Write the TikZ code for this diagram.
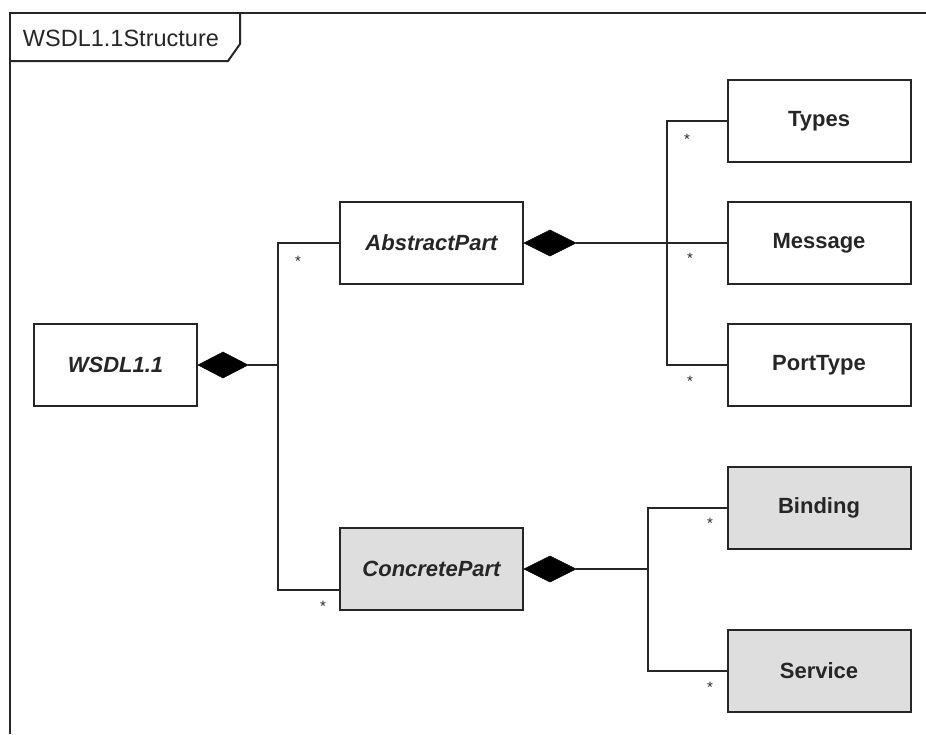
\documentclass[tikz,border=0pt]{standalone}
\usepackage{fontspec}
\setmainfont{Liberation Sans}
\usetikzlibrary{calc}
\definecolor{ln}{HTML}{262626}
\definecolor{gr}{HTML}{DEDEDE}
\begin{document}
\begin{tikzpicture}[x=1pt,y=-1pt,line width=2pt,
  cls/.style={draw=ln,rectangle,inner sep=0pt,minimum width=183pt,minimum height=82pt,font=\fontsize{22}{24}\selectfont\bfseries,text=ln},
  abstr/.style={cls,font=\fontsize{22}{24}\selectfont\bfseries\itshape},
  conc/.style={fill=gr},
  mult/.style={inner sep=0pt,font=\fontsize{15}{15}\selectfont,text=ln},
  dia/.style={fill=black,draw=black,line width=0.5pt},
  conn/.style={draw=ln,line width=2pt}]
\useasboundingbox (0,0) rectangle (926,734);
% frame
\draw[ln] (10,734) -- (10,13) -- (926,13);
\draw[ln] (10,61) -- (228,61) -- (240,44) -- (240,13);
\node[anchor=west,inner sep=0pt,font=\fontsize{23.5}{26}\selectfont,text=ln] (title) at (22,38) {WSDL1.1Structure};
% classes
\node[abstr,minimum width=163pt] (wsdl) at (115.5,365) {WSDL1.1};
\node[abstr] (abs) at (431.5,243) {AbstractPart};
\node[abstr,conc] (con) at (431.5,569) {ConcretePart};
\node[cls] (types) at (819,121) {Types};
\node[cls] (msg) at (819,243) {Message};
\node[cls] (port) at (819,365) {PortType};
\node[cls,conc] (bind) at (819,508) {Binding};
\node[cls,conc] (serv) at (819,671) {Service};
% diamonds
\coordinate (wd) at ($(wsdl.east)+(50,0)$);
\coordinate (ad) at ($(abs.east)+(52,0)$);
\coordinate (cd) at ($(con.east)+(52,0)$);
\path[dia] (wsdl.east) -- ++(25,-13) -- (wd) -- ++(-25,13) -- cycle;
\path[dia] (abs.east) -- ++(26,-13) -- (ad) -- ++(-26,13) -- cycle;
\path[dia] (con.east) -- ++(26,-13) -- (cd) -- ++(-26,13) -- cycle;
% junctions
\coordinate (j0) at (278,365);
\coordinate (j1) at (667,243);
\coordinate (j2) at (648,569);
\coordinate (cw) at ($(con.west)+(0,21)$);
% connectors
\draw[conn] (wd) -- (j0);
\draw[conn] (abs.west) -| (j0) |- (cw);
\draw[conn] (ad) -- (j1) -- (msg.west);
\draw[conn] (types.west) -| (j1) |- (port.west);
\draw[conn] (cd) -- (j2);
\draw[conn] (bind.west) -| (j2) |- (serv.west);
% multiplicities
\node[mult] (m1) at (298,261) {*};
\node[mult] (m2) at (323,606) {*};
\node[mult] (m3) at (687,139) {*};
\node[mult] (m4) at (690,258) {*};
\node[mult] (m5) at (690,381) {*};
\node[mult] (m6) at (710,523) {*};
\node[mult] (m7) at (710,687) {*};
\end{tikzpicture}
\end{document}
